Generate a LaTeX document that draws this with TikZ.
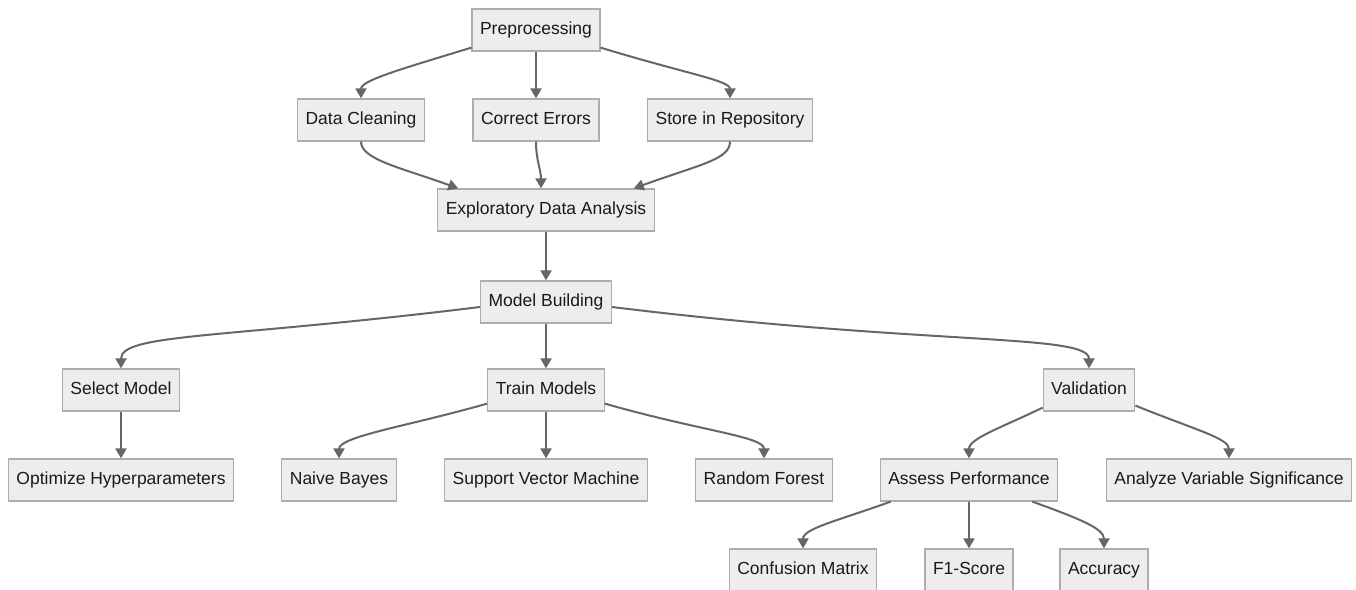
\documentclass[tikz,border=0pt]{standalone}
\usepackage{fontspec}
\setmainfont{Liberation Sans}
\usetikzlibrary{arrows.meta}

\begin{document}
\begin{tikzpicture}[
  x=1pt, y=1pt,
  box/.style={draw=black!32, fill=black!7, line width=1.2pt, inner xsep=8pt, inner ysep=12.5pt,
    text height=12.5pt, text depth=4.5pt, text=black!90, font=\fontsize{17.5}{21}\selectfont},
  link/.style={draw=black!60, line width=2pt, ->},
  >={Triangle[length=10pt,width=11pt]}
]
  \useasboundingbox (0,0) rectangle (1356,-589);
  \clip (0,0) rectangle (1356,-589);
  % preprocessing stage
  \node[box] (pre) at (536,-30) {Preprocessing};
  \node[box] (dc) at (361,-120) {Data Cleaning};
  \node[box] (ce) at (536,-120) {Correct Errors};
  \node[box] (sr) at (730,-120) {Store in Repository};
  \node[box] (eda) at (546,-210) {Exploratory Data Analysis};
  % modelling stage
  \node[box] (mb) at (546,-302) {Model Building};
  \node[box] (sm) at (121,-390) {Select Model};
  \node[box] (tm) at (546,-390) {Train Models};
  \node[box] (val) at (1089,-390) {Validation};
  \node[box] (opt) at (121,-480) {Optimize Hyperparameters};
  \node[box] (nb) at (339,-480) {Naive Bayes};
  \node[box] (svm) at (546,-480) {Support Vector Machine};
  \node[box] (rf) at (764,-480) {Random Forest};
  \node[box] (ap) at (969,-480) {Assess Performance};
  \node[box] (avs) at (1229,-480) {Analyze Variable Significance};
  \node[box] (cm) at (803,-570) {Confusion Matrix};
  \node[box] (f1) at (969,-570) {F1-Score};
  \node[box] (acc) at (1104,-570) {Accuracy};

  \draw[link] ([yshift=4pt]pre.south west) to[out=197,in=90,out distance=75pt,in distance=18pt] (dc.north);
  \draw[link] (pre) -- (ce);
  \draw[link] ([yshift=4pt]pre.south east) to[out=-17,in=90,out distance=90pt,in distance=18pt] (sr.north);
  \draw[link] (dc.south) to[out=-90,in=160,out distance=18pt,in distance=60pt] ([xshift=21pt]eda.north west);
  \draw[link] (ce.south) to[out=-90,in=90] ([xshift=-5pt]eda.north);
  \draw[link] (sr.south) to[out=-90,in=20,out distance=18pt,in distance=70pt] ([xshift=-21pt]eda.north east);
  \draw[link] (eda) -- (mb);
  \draw[link] ([yshift=-5pt]mb.west) to[out=187,in=90,out distance=260pt,in distance=35pt] (sm.north);
  \draw[link] (mb) -- (tm);
  \draw[link] ([yshift=-5pt]mb.east) to[out=-7,in=90,out distance=320pt,in distance=35pt] (val.north);
  \draw[link] (sm) -- (opt);
  \draw[link] ([yshift=8pt]tm.south west) to[out=196,in=90,out distance=80pt,in distance=22pt] (nb.north);
  \draw[link] (tm) -- (svm);
  \draw[link] ([yshift=8pt]tm.south east) to[out=-16,in=90,out distance=100pt,in distance=22pt] (rf.north);
  \draw[link] ([yshift=4pt]val.south west) to[out=206,in=90,out distance=45pt,in distance=20pt] (ap.north);
  \draw[link] ([yshift=6pt]val.south east) to[out=-22,in=90,out distance=65pt,in distance=20pt] (avs.north);
  \draw[link] ([xshift=11pt]ap.south west) to[out=200,in=90,out distance=55pt,in distance=20pt] (cm.north);
  \draw[link] (ap) -- (f1);
  \draw[link] ([xshift=-26pt]ap.south east) to[out=-20,in=90,out distance=50pt,in distance=20pt] (acc.north);
\end{tikzpicture}
\end{document}
